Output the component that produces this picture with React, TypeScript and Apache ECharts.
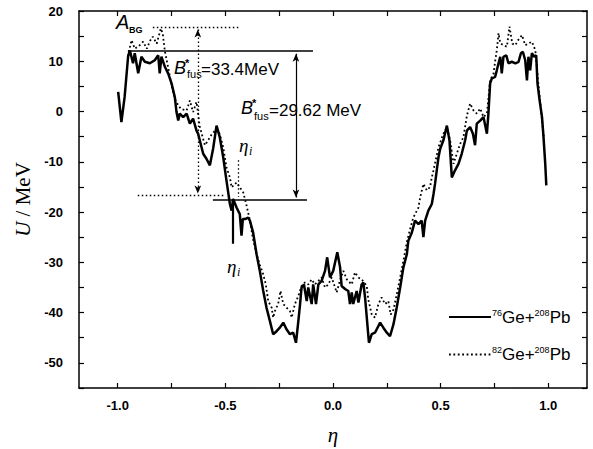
import React, { useEffect, useRef } from 'react';
import * as echarts from 'echarts';

// 76Ge+208Pb (solid)
const etaSolid = [
  -0.998, -0.983, -0.968, -0.952, -0.944, -0.929, -0.921, -0.905, -0.890, -0.874,
  -0.851, -0.828, -0.812, -0.805, -0.797, -0.781, -0.766, -0.750, -0.735, -0.727,
  -0.719, -0.712, -0.696, -0.680, -0.665, -0.650, -0.634, -0.627, -0.619, -0.603,
  -0.588, -0.572, -0.557, -0.541, -0.526, -0.510, -0.495, -0.479, -0.471, -0.464,
  -0.448, -0.433, -0.425, -0.419, -0.409, -0.394, -0.386, -0.371, -0.355, -0.340,
  -0.324, -0.309, -0.293, -0.278, -0.262, -0.247, -0.231, -0.216, -0.200, -0.185,
  -0.172, -0.161, -0.153, -0.146, -0.135, -0.122, -0.115, -0.099, -0.092, -0.079,
  -0.068, -0.053, -0.037, -0.027, -0.014, 0.001, 0.020, 0.033, 0.040, 0.056,
  0.071, 0.079, 0.087, 0.094, 0.110, 0.118, 0.133, 0.141, 0.149, 0.157,
  0.167, 0.180, 0.195, 0.219, 0.234, 0.250, 0.265, 0.281, 0.296, 0.312,
  0.327, 0.343, 0.350, 0.366, 0.381, 0.397, 0.412, 0.420, 0.428, 0.443,
  0.459, 0.467, 0.474, 0.482, 0.490, 0.498, 0.513, 0.529, 0.541, 0.552,
  0.567, 0.583, 0.598, 0.614, 0.622, 0.637, 0.650, 0.660, 0.668, 0.684,
  0.699, 0.715, 0.722, 0.730, 0.738, 0.753, 0.761, 0.769, 0.777, 0.784,
  0.792, 0.805, 0.815, 0.831, 0.847, 0.862, 0.873, 0.882, 0.893, 0.901,
  0.908, 0.916, 0.924, 0.935, 0.944, 0.950, 0.960, 0.971, 0.978, 0.986, 0.991
];
const uSolid = [
  3.9, -2.1, 2.9, 10.9, 12.2, 9.6, 11.6, 7.6, 10.9, 9.9,
  9.6, 10.2, 11.2, 7.6, 10.9, 8.9, 7.6, 5.6, 2.9, -0.1,
  -1.8, -0.4, -1.1, -0.4, -2.4, -1.4, -3.8, -4.4, -5.7, -8.4,
  -9.4, -10.7, -7.4, -2.8, -5.1, -9.1, -13.7, -18.4, -19.7, -17.4,
  -19.1, -20.4, -24.7, -21.4, -21.4, -21.1, -21.7, -24.1, -28.4, -31.7,
  -35.7, -39.0, -41.7, -44.3, -43.7, -43.0, -42.0, -43.3, -44.3, -44.0,
  -46.0, -41.7, -38.3, -35.0, -34.4, -37.7, -35.0, -38.3, -34.4, -38.3,
  -34.4, -33.7, -31.7, -29.0, -33.0, -31.7, -28.0, -31.0, -34.7, -35.3,
  -35.7, -38.3, -36.0, -38.3, -35.7, -38.0, -34.4, -34.0, -37.0, -41.0,
  -46.0, -44.3, -44.0, -42.0, -43.0, -44.0, -44.7, -42.3, -39.0, -35.0,
  -31.0, -28.4, -25.7, -24.1, -21.7, -22.4, -21.7, -25.0, -21.7, -19.7,
  -18.4, -16.4, -14.4, -11.7, -9.1, -7.4, -5.7, -2.8, -5.7, -13.1,
  -11.7, -10.4, -8.4, -5.7, -3.8, -3.1, -4.4, -6.7, -2.4, -1.8,
  -1.1, -4.4, -0.4, 5.6, 6.6, 6.9, 8.2, 9.6, 10.9, 7.6,
  10.9, 11.2, 9.6, 9.9, 9.6, 9.9, 11.6, 11.9, 10.2, 6.2,
  10.9, 8.2, 11.6, 10.9, 11.2, 5.6, 2.2, -1.1, -5.1, -10.4, -14.7
];

// 82Ge+208Pb (dotted)
const etaDotted = [
  -0.953, -0.936, -0.921, -0.898, -0.882, -0.865, -0.851, -0.837, -0.819, -0.800,
  -0.791, -0.781, -0.767, -0.749, -0.730, -0.707, -0.680, -0.665, -0.650, -0.634,
  -0.619, -0.603, -0.595, -0.580, -0.563, -0.541, -0.526, -0.510, -0.495, -0.479,
  -0.471, -0.448, -0.433, -0.417, -0.401, -0.386, -0.372, -0.355, -0.340, -0.324,
  -0.312, -0.301, -0.285, -0.278, -0.270, -0.255, -0.244, -0.231, -0.216, -0.200,
  -0.192, -0.177, -0.161, -0.146, -0.130, -0.115, -0.099, -0.084, -0.068, -0.053,
  -0.037, -0.022, -0.006, 0.017, 0.033, 0.048, 0.064, 0.087, 0.102, 0.118,
  0.135, 0.157, 0.164, 0.180, 0.195, 0.211, 0.226, 0.242, 0.257, 0.268,
  0.281, 0.296, 0.312, 0.327, 0.343, 0.358, 0.373, 0.397, 0.405, 0.420,
  0.436, 0.451, 0.459, 0.467, 0.490, 0.513, 0.529, 0.544, 0.560, 0.575,
  0.591, 0.606, 0.622, 0.637, 0.653, 0.668, 0.684, 0.699, 0.715, 0.730,
  0.746, 0.753, 0.761, 0.769, 0.777, 0.792, 0.808, 0.820, 0.833, 0.847,
  0.860, 0.878, 0.893, 0.907, 0.924, 0.940, 0.953, 0.967, 0.979
];
const uDotted = [
  11.0, 14.2, 12.5, 13.2, 13.9, 12.5, 14.0, 14.9, 13.5, 16.5,
  15.5, 12.0, 9.0, 5.0, 2.0, 0.5, 0.2, 2.2, -0.1, 1.9,
  -3.0, -5.5, -6.7, -5.7, -4.5, -3.5, -4.5, -7.1, -11.1, -13.1,
  -15.1, -14.1, -15.1, -16.1, -18.8, -21.7, -25.3, -28.4, -30.5, -32.4,
  -34.4, -37.7, -39.0, -41.0, -39.7, -38.3, -35.7, -38.3, -39.0, -39.7,
  -41.0, -38.3, -36.7, -34.7, -34.0, -34.4, -33.4, -34.4, -33.7, -33.0,
  -35.0, -34.4, -33.0, -36.0, -33.5, -31.7, -33.4, -34.4, -32.0, -33.0,
  -33.5, -34.7, -37.4, -40.4, -41.0, -38.3, -37.0, -38.3, -37.7, -40.4,
  -39.4, -36.4, -33.0, -29.7, -26.0, -23.4, -21.1, -19.1, -17.1, -14.4,
  -15.7, -15.0, -13.1, -11.7, -7.1, -4.4, -3.1, -5.7, -10.4, -8.4,
  -6.4, -5.1, -0.8, 1.6, 0.2, -0.4, 0.6, -1.1, -0.4, 6.2,
  7.6, 9.9, 12.2, 15.6, 13.6, 13.2, 12.9, 16.9, 13.5, 13.2,
  14.2, 15.2, 13.2, 13.5, 13.9, 12.2, 6.0, 0.0, -5.0
];

const xTickLabels = [-1.0, -0.5, 0.0, 0.5, 1.0];
const xTicks = [-1.0, -0.75, -0.5, -0.25, 0.0, 0.25, 0.5, 0.75, 1.0];

// annotation guide lines (eta, U)
const fusLineTop = [[-0.953, 12.0], [-0.093, 12.0]];
const fusLineBottom = [[-0.558, -17.6], [-0.121, -17.6]];
const bgLineTop = [[-0.837, 16.7], [-0.44, 16.7]];
const bgLineBottom = [[-0.907, -16.7], [-0.50, -16.7]];
const arrow334 = [[-0.628, 16.3], [-0.628, -16.3]];
const arrow2962 = [[-0.172, 11.5], [-0.172, -17.1]];
const etaISolid = [[-0.467, -17.6], [-0.467, -26.3]];
const etaIDotted = [[-0.442, -9.7], [-0.442, -17.0]];

const SANS = 'Liberation Sans, Arial, sans-serif';
const SERIF = 'Liberation Serif, Times New Roman, serif';

function zip(a: number[], b: number[]) {
  return a.map((v, i) => [v, b[i]]);
}

export default function App() {
  const ref = useRef<HTMLDivElement>(null);
  useEffect(() => {
    if (!ref.current) return;
    const chart = echarts.init(ref.current, undefined, { renderer: 'svg' });
    const solidLine = { type: 'solid', color: '#000', width: 1.5 };
    const dotLine = { type: [1.5, 2.5], color: '#000', width: 1.3 };
    const rich = {
      s: { fontSize: 9, fontFamily: SANS, color: '#000', padding: [0, 0, 9, 0] },
      t: { fontSize: 17, fontFamily: SANS, color: '#000' },
    };
    const legendLabel = (name: string) => {
      const m = name.match(/^(\d+)Ge\+(\d+)Pb$/);
      if (!m) return name;
      return `{s|${m[1]}}{t|Ge+}{s|${m[2]}}{t|Pb}`;
    };
    const axisCommon = {
      type: 'value',
      axisLine: { show: true, onZero: false, lineStyle: { color: '#000', width: 1.5 } },
      splitLine: { show: false },
    };
    const texts: any[] = [
      { type: 'text', left: 116, top: 12, style: { text: 'A', font: `italic 20px ${SANS}`, fill: '#000' } },
      { type: 'text', left: 129, top: 25, style: { text: 'BG', font: `bold 9px ${SANS}`, fill: '#000' } },
      { type: 'text', left: 174, top: 59, style: { text: 'B', font: `italic 18px ${SANS}`, fill: '#000' } },
      { type: 'text', left: 185, top: 57, style: { text: '*', font: `bold 11px ${SANS}`, fill: '#000' } },
      { type: 'text', left: 187, top: 68, style: { text: 'fus', font: `11px ${SANS}`, fill: '#000' } },
      { type: 'text', left: 201, top: 61, style: { text: '=33.4MeV', font: `17px ${SANS}`, fill: '#000' } },
      { type: 'text', left: 241, top: 99, style: { text: 'B', font: `italic 18px ${SANS}`, fill: '#000' } },
      { type: 'text', left: 252, top: 97, style: { text: '*', font: `bold 11px ${SANS}`, fill: '#000' } },
      { type: 'text', left: 254, top: 110, style: { text: 'fus', font: `11px ${SANS}`, fill: '#000' } },
      { type: 'text', left: 269, top: 102, style: { text: '=29.62 MeV', font: `17px ${SANS}`, fill: '#000' } },
      { type: 'text', left: 239, top: 136, style: { text: 'η', font: `italic 19px ${SERIF}`, fill: '#000' } },
      { type: 'text', left: 249, top: 145, style: { text: 'i', font: `italic 12px ${SERIF}`, fill: '#000' } },
      { type: 'text', left: 227, top: 257, style: { text: 'η', font: `italic 19px ${SERIF}`, fill: '#000' } },
      { type: 'text', left: 237, top: 266, style: { text: 'i', font: `italic 12px ${SERIF}`, fill: '#000' } },
    ];
    const ml = (coords: number[][], lineStyle: any, symbol: string[] = ['none', 'none']) => [
      { coord: coords[0], lineStyle, symbol: symbol[0], symbolSize: [5, 8] },
      { coord: coords[1], symbol: symbol[1], symbolSize: [5, 8] },
    ];
    chart.setOption({
      animation: false,
      backgroundColor: '#fff',
      grid: { left: 79, right: 6, top: 11, bottom: 61, containLabel: false, outerBoundsMode: 'none' },
      legend: {
        orient: 'vertical',
        left: 443,
        top: 303,
        itemWidth: 42,
        itemHeight: 14,
        itemGap: 20,
        data: ['76Ge+208Pb', '82Ge+208Pb'],
        formatter: legendLabel,
        itemStyle: { opacity: 0 },
        textStyle: { rich, padding: [0, 0, 0, -4] },
      },
      xAxis: [
        {
          ...axisCommon,
          position: 'bottom',
          min: -1.18,
          max: 1.18,
          name: 'η',
          nameLocation: 'middle',
          nameGap: 36,
          nameTextStyle: { fontFamily: SERIF, fontStyle: 'italic', fontSize: 21, color: '#000' },
          axisTick: { show: true, inside: true, length: 5, customValues: xTicks, lineStyle: { color: '#000', width: 1.2 } },
          axisLabel: {
            show: true,
            customValues: xTickLabels,
            formatter: (v: number) => v.toFixed(1),
            color: '#000',
            fontWeight: 'bold',
            fontSize: 13,
            fontFamily: SANS,
            margin: 11,
          },
        },
        {
          ...axisCommon,
          position: 'top',
          min: -1.18,
          max: 1.18,
          axisTick: { show: true, inside: true, length: 5, customValues: xTicks, lineStyle: { color: '#000', width: 1.2 } },
          axisLabel: { show: false },
        },
      ],
      yAxis: [
        {
          ...axisCommon,
          position: 'left',
          min: -55,
          max: 20,
          interval: 5,
          name: '{i|U}{n| / MeV}',
          nameLocation: 'middle',
          nameGap: 37,
          nameRotate: 90,
          nameTextStyle: {
            rich: {
              i: { fontFamily: SERIF, fontStyle: 'italic', fontSize: 21, color: '#000' },
              n: { fontFamily: SERIF, fontSize: 21, color: '#000' },
            },
          },
          axisTick: { show: true, inside: true, length: 5, lineStyle: { color: '#000', width: 1.2 } },
          axisLabel: {
            formatter: (v: number) => (v % 10 === 0 ? String(v) : ''),
            color: '#000',
            fontWeight: 'bold',
            fontSize: 13,
            fontFamily: SANS,
            margin: 16,
          },
        },
        {
          ...axisCommon,
          position: 'right',
          min: -55,
          max: 20,
          interval: 5,
          axisTick: { show: true, inside: true, length: 5, lineStyle: { color: '#000', width: 1.2 } },
          axisLabel: { show: false },
        },
      ],
      series: [
        {
          name: '76Ge+208Pb',
          type: 'line',
          data: zip(etaSolid, uSolid),
          showSymbol: false,
          symbol: 'none',
          lineStyle: { color: '#000', width: 2.5, type: 'solid' },
          itemStyle: { color: '#000' },
          markLine: {
            silent: true,
            label: { show: false },
            symbol: ['none', 'none'],
            data: [
              ml(fusLineTop, solidLine),
              ml(fusLineBottom, solidLine),
              ml(bgLineTop, dotLine),
              ml(bgLineBottom, dotLine),
              ml(arrow334, dotLine, ['arrow', 'arrow']),
              ml(arrow2962, { ...solidLine, width: 1.2 }, ['arrow', 'arrow']),
              ml(etaISolid, { ...solidLine, width: 2.2 }),
              ml(etaIDotted, dotLine),
            ],
          },
        },
        {
          name: '82Ge+208Pb',
          type: 'line',
          data: zip(etaDotted, uDotted),
          showSymbol: false,
          symbol: 'none',
          lineStyle: { color: '#000', width: 1.8, type: [1.8, 2.6] },
          itemStyle: { color: '#000' },
        },
      ],
      graphic: texts,
    });
    return () => chart.dispose();
  }, []);
  return <div ref={ref} style={{ width: 593, height: 449, position: 'absolute', left: 0, top: 0 }} />;
}
